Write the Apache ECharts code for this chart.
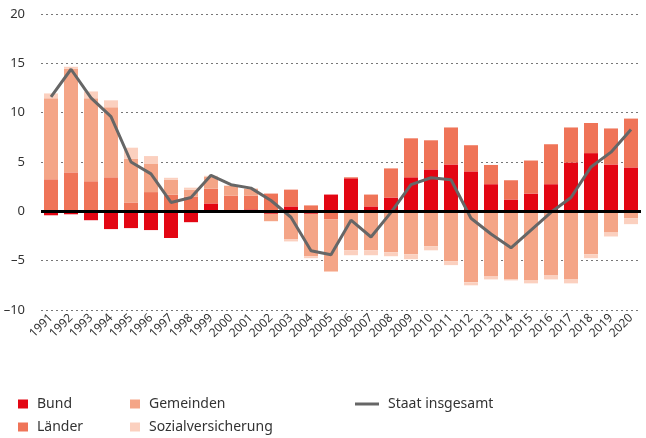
<!DOCTYPE html>
<html>
<head>
<meta charset="utf-8">
<script src="https://cdn.jsdelivr.net/npm/echarts@6/dist/echarts.min.js"></script>
<style>
  html, body { margin: 0; padding: 0; background: #fff; }
  #chart { width: 646px; height: 438px; }
</style>
</head>
<body>
<div id="chart"></div>
<script>
const years = ['1991','1992','1993','1994','1995','1996','1997','1998','1999','2000',
  '2001','2002','2003','2004','2005','2006','2007','2008','2009','2010',
  '2011','2012','2013','2014','2015','2016','2017','2018','2019','2020'];

const bund = [-0.4, -0.3, -0.9, -1.8, -1.7, -1.9, -2.7, -1.1, 0.8, 0,
  0.2, -0.25, 0.5, -0.25, 1.7, 3.35, 0.5, 1.4, 3.45, 4.25,
  4.75, 4.05, 2.75, 1.2, 1.8, 2.75, 4.95, 5.9, 4.75, 4.45];
const laender = [3.25, 3.95, 3.05, 3.45, 0.9, 1.95, 1.7, 1.5, 1.5, 1.6,
  1.4, 1.8, 1.7, 0.6, -0.8, 0.1, 1.2, 2.95, 3.95, 2.95,
  3.75, 2.65, 1.95, 1.95, 3.35, 4.05, 3.55, 3.05, 3.65, 4.95];
const gemeinden = [8.2, 10.5, 8.4, 7.1, 4.45, 2.85, 1.5, 0.7, 1.2, 1.0,
  0.7, -0.75, -2.85, -4.3, -5.25, -3.95, -3.95, -4.15, -4.35, -3.55,
  -5.05, -7.2, -6.6, -6.9, -7.0, -6.5, -6.9, -4.35, -2.15, -0.7];
const sozial = [0.5, 0.2, 0.7, 0.7, 1.1, 0.8, 0.2, 0.2, 0.1, 0,
  0, 0, -0.2, -0.2, -0.1, -0.5, -0.5, -0.4, -0.5, -0.4,
  -0.4, -0.3, -0.3, -0.1, -0.3, -0.4, -0.4, -0.4, -0.4, -0.6];
const staat = [11.6, 14.4, 11.5, 9.6, 5.0, 3.8, 0.9, 1.4, 3.65, 2.7,
  2.35, 1.1, -0.6, -4.0, -4.4, -0.9, -2.6, -0.1, 2.7, 3.4,
  3.2, -0.7, -2.3, -3.7, -1.9, -0.1, 1.4, 4.5, 6.0, 8.3];

const yTicks = [-10, -5, 0, 5, 10, 15, 20];

const font = 'Noto Sans';
const barColors = ['#e30613', '#ef7458', '#f4a587', '#fbd0bf'];

function barSeries(name, data, color) {
  return {
    name: name,
    type: 'bar',
    stack: 'total',
    barWidth: 14,
    data: data,
    itemStyle: { color: color },
    emphasis: { disabled: true }
  };
}

// one legend per entry, so the two-column layout is exact
function legendItem(name, left, top, isLine) {
  return {
    left: left, top: top,
    icon: 'rect',
    itemWidth: isLine ? 24 : 10,
    itemHeight: isLine ? 3 : 9,
    textStyle: { fontSize: 14, color: '#333', fontFamily: font, padding: [0, 0, 0, 4] },
    data: [name]
  };
}

const chart = echarts.init(document.getElementById('chart'));
chart.setOption({
  animation: false,
  textStyle: { fontFamily: font },
  grid: { left: 41, right: 5, top: 14, bottom: 128, containLabel: false },
  legend: [
    legendItem('Bund', 13, 392),
    legendItem('Länder', 13, 415),
    legendItem('Gemeinden', 125, 392),
    legendItem('Sozialversicherung', 125, 415),
    legendItem('Staat insgesamt', 350, 392, true)
  ],
  xAxis: {
    type: 'category',
    data: years,
    axisLine: { show: false, onZero: false },
    axisTick: { show: false },
    axisLabel: { interval: 0, rotate: 45, fontSize: 12, color: '#333', margin: 6, fontFamily: font }
  },
  yAxis: {
    type: 'value',
    min: yTicks[0],
    max: yTicks[yTicks.length - 1],
    interval: 5,
    axisLine: { show: false },
    axisTick: { show: false },
    axisLabel: {
      fontSize: 13, color: '#333', margin: 16, fontFamily: font,
      formatter: v => (v < 0 ? '\u2013' + Math.abs(v) : String(v))
    },
    splitLine: { lineStyle: { type: [2, 3], color: '#777', width: 1 } }
  },
  series: [
    barSeries('Bund', bund, barColors[0]),
    barSeries('Länder', laender, barColors[1]),
    barSeries('Gemeinden', gemeinden, barColors[2]),
    barSeries('Sozialversicherung', sozial, barColors[3]),
    {
      name: 'Staat insgesamt',
      type: 'line',
      data: staat,
      symbol: 'none',
      itemStyle: { color: '#666' },
      lineStyle: { color: '#666', width: 3 },
      markLine: {
        silent: true,
        symbol: 'none',
        label: { show: false },
        lineStyle: { color: '#000', width: 3, type: 'solid' },
        data: [{ yAxis: 0 }]
      }
    }
  ]
});
</script>
</body>
</html>
